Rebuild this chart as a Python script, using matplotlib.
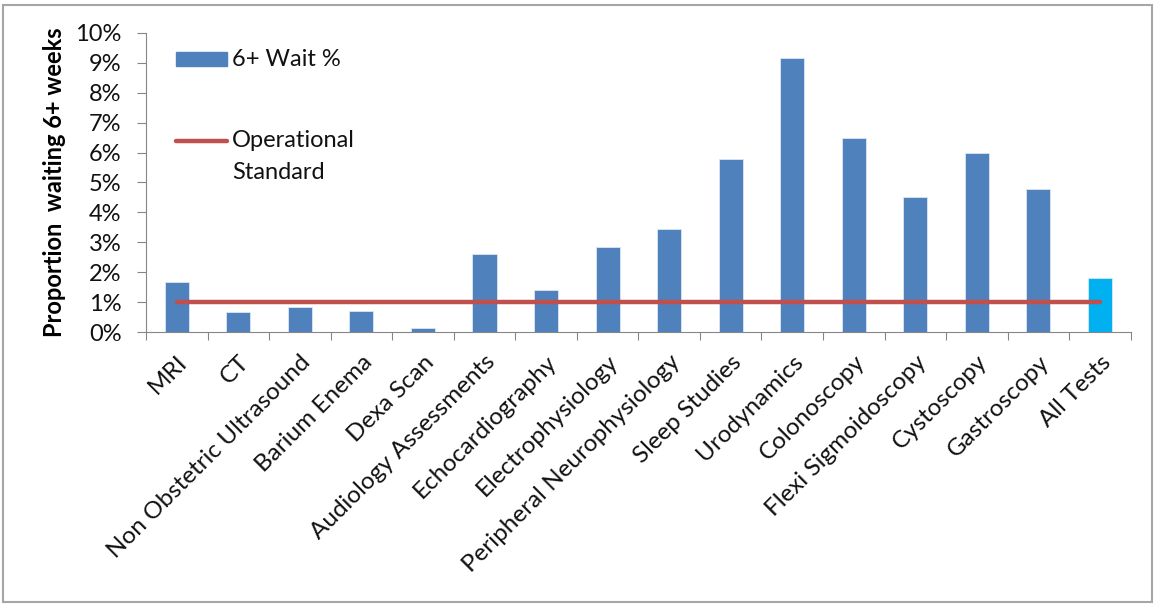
import numpy as np
import matplotlib.pyplot as plt
from matplotlib.patches import Rectangle
from matplotlib.ticker import PercentFormatter

tests = ['MRI', 'CT', 'Non Obstetric Ultrasound', 'Barium Enema', 'Dexa Scan',
         'Audiology Assessments', 'Echocardiography', 'Electrophysiology',
         'Peripheral Neurophysiology', 'Sleep Studies', 'Urodynamics',
         'Colonoscopy', 'Flexi Sigmoidoscopy', 'Cystoscopy', 'Gastroscopy',
         'All Tests']
wait_pct = [1.69, 0.67, 0.84, 0.71, 0.15, 2.60, 1.42, 2.86, 3.45, 5.77,
            9.17, 6.47, 4.52, 5.99, 4.78, 1.82]
standard = 1.0

plt.rcParams['font.family'] = ['Lato', 'DejaVu Sans']

fig = plt.figure(figsize=(11.55, 6.04), dpi=100)
ax = fig.add_axes([0.1264, 0.4498, 0.979 - 0.1264, 0.9459 - 0.4498])

x = np.arange(len(tests))
colors = ['#4F81BD'] * (len(tests) - 1) + ['#00B0F0']
ax.bar(x, wait_pct, width=0.39, color=colors, edgecolor='#DCE6F2', linewidth=0.6, zorder=2)
ax.plot([x[0], x[-1]], [standard, standard], color='#C0504D', linewidth=3.2,
        solid_capstyle='round', zorder=3)

ax.set_xlim(-0.5, len(tests) - 0.5)
ax.set_ylim(0, 10)
ax.set_yticks(np.arange(0, 11, 1))
ax.yaxis.set_major_formatter(PercentFormatter(decimals=0))
ax.set_xticks(np.arange(-0.5, len(tests), 1))
ax.set_xticklabels([])
ax.set_xticks(x + 0.12, minor=True)
ax.set_xticklabels(tests, minor=True, rotation=45, ha='right', va='center',
                   rotation_mode='anchor', fontsize=17.5, color='#111111')
ax.tick_params(axis='x', which='minor', length=0, pad=19)
ax.tick_params(axis='x', which='major', length=5.5, color='#868686')
ax.tick_params(axis='y', length=6.5, color='#868686', labelsize=17, pad=11,
               labelcolor='#111111')

for s in ['top', 'right']:
    ax.spines[s].set_visible(False)
for s in ['left', 'bottom']:
    ax.spines[s].set_color('#868686')

ax.set_ylabel('Proportion  waiting 6+ weeks', fontsize=17, fontweight='bold', labelpad=7)

# legend drawn by hand so the line sits beside the first text line
ax.add_patch(Rectangle((0.0305, 0.889), 0.0518, 0.047, transform=ax.transAxes,
                       color='#4F81BD', clip_on=False))
ax.text(0.0873, 0.912, '6+ Wait %', transform=ax.transAxes, fontsize=17,
        va='center', ha='left', color='#111111')
ax.plot([0.0305, 0.0823], [0.6385, 0.6385], transform=ax.transAxes,
        color='#C0504D', linewidth=3.2, solid_capstyle='round', clip_on=False)
ax.text(0.0873, 0.6385, 'Operational', transform=ax.transAxes, fontsize=17,
        va='center', ha='left', color='#111111')
ax.text(0.0873, 0.535, 'Standard', transform=ax.transAxes, fontsize=17,
        va='center', ha='left', color='#111111')

fig.patches.append(Rectangle((0.003, 0.003), 0.994, 0.988, transform=fig.transFigure,
                             fill=False, edgecolor='#A6A6A6', linewidth=1.5))

fig.savefig('out.png', dpi=100)
